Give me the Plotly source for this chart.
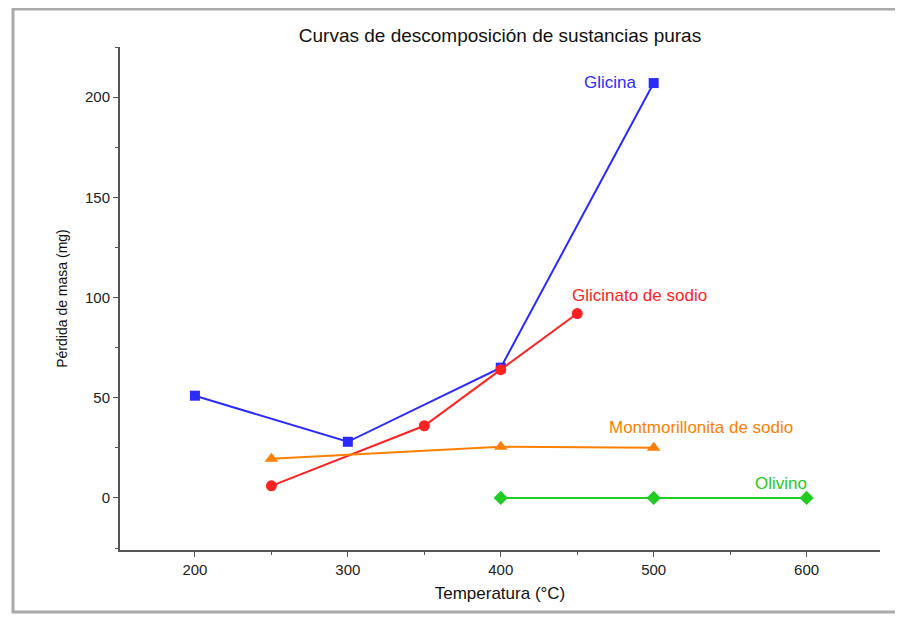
import plotly.graph_objects as go

glicina_x = [200, 300, 400, 500]
glicina_y = [51, 28, 65, 207]
glicinato_x = [250, 350, 400, 450]
glicinato_y = [6, 36, 64, 92]
montmo_x = [250, 400, 500]
montmo_y = [19.5, 25.5, 25]
olivino_x = [400, 500, 600]
olivino_y = [0, 0, 0]

series = [
    ("Glicina", glicina_x, glicina_y, "#2b2bff", "square", 10, 472, 207.5),
    ("Glicinato de sodio", glicinato_x, glicinato_y, "#ff2222", "circle", 11, 491, 101),
    ("Montmorillonita de sodio", montmo_x, montmo_y, "#ff8000", "triangle-up", 12, 531, 35),
    ("Olivino", olivino_x, olivino_y, "#22cc22", "diamond", 11, 583, 7),
]

FONT = "Liberation Sans, Arial"

fig = go.Figure()
for name, xs, ys, col, sym, msize, ax, ay in series:
    fig.add_trace(go.Scatter(
        x=xs, y=ys, mode="lines+markers", name=name,
        line=dict(color=col, width=2),
        marker=dict(symbol=sym, size=msize, color=col),
        showlegend=False,
    ))
    fig.add_annotation(x=ax, y=ay, text=name, showarrow=False,
                       font=dict(color=col, size=17, family=FONT),
                       xanchor="center", yanchor="middle")

axis_common = dict(
    showline=True, linecolor="#555555", linewidth=2, mirror=False,
    ticks="outside", ticklen=5, tickwidth=1, tickcolor="#555555",
    showgrid=False, zeroline=False,
    tickfont=dict(size=15, color="#222222", family=FONT),
)

# page body has an 8px default margin: figure is shifted by 8px
fig.update_layout(
    width=895, height=610,
    paper_bgcolor="white", plot_bgcolor="white",
    margin=dict(l=112, r=23, t=39, b=68),
    title=dict(text="Curvas de descomposición de sustancias puras",
               x=492 / 895, xanchor="center", y=1 - 27 / 610, yanchor="middle",
               font=dict(size=19, color="#111111", family=FONT)),
    xaxis=dict(range=[151, 648], tickvals=[200, 300, 400, 500, 600],
               title=dict(text="Temperatura (°C)", standoff=10,
                          font=dict(size=17, color="#111111", family=FONT)),
               minor=dict(ticks="outside", ticklen=3, tickcolor="#555555", dtick=50, tick0=150),
               **axis_common),
    yaxis=dict(range=[-26, 225], tickvals=[0, 50, 100, 150, 200],
               title=dict(text="Pérdida de masa (mg)", standoff=14,
                          font=dict(size=14, color="#111111", family=FONT)),
               minor=dict(ticks="outside", ticklen=3, tickcolor="#555555", dtick=25, tick0=0),
               **axis_common),
    shapes=[dict(type="rect", xref="paper", yref="paper",
                 x0=-107 / 760, x1=1 + 60 / 760, y0=-62 / 503, y1=1 + 38 / 503,
                 line=dict(color="#aaaaaa", width=3), layer="below")],
)

fig.write_html("out.html")
